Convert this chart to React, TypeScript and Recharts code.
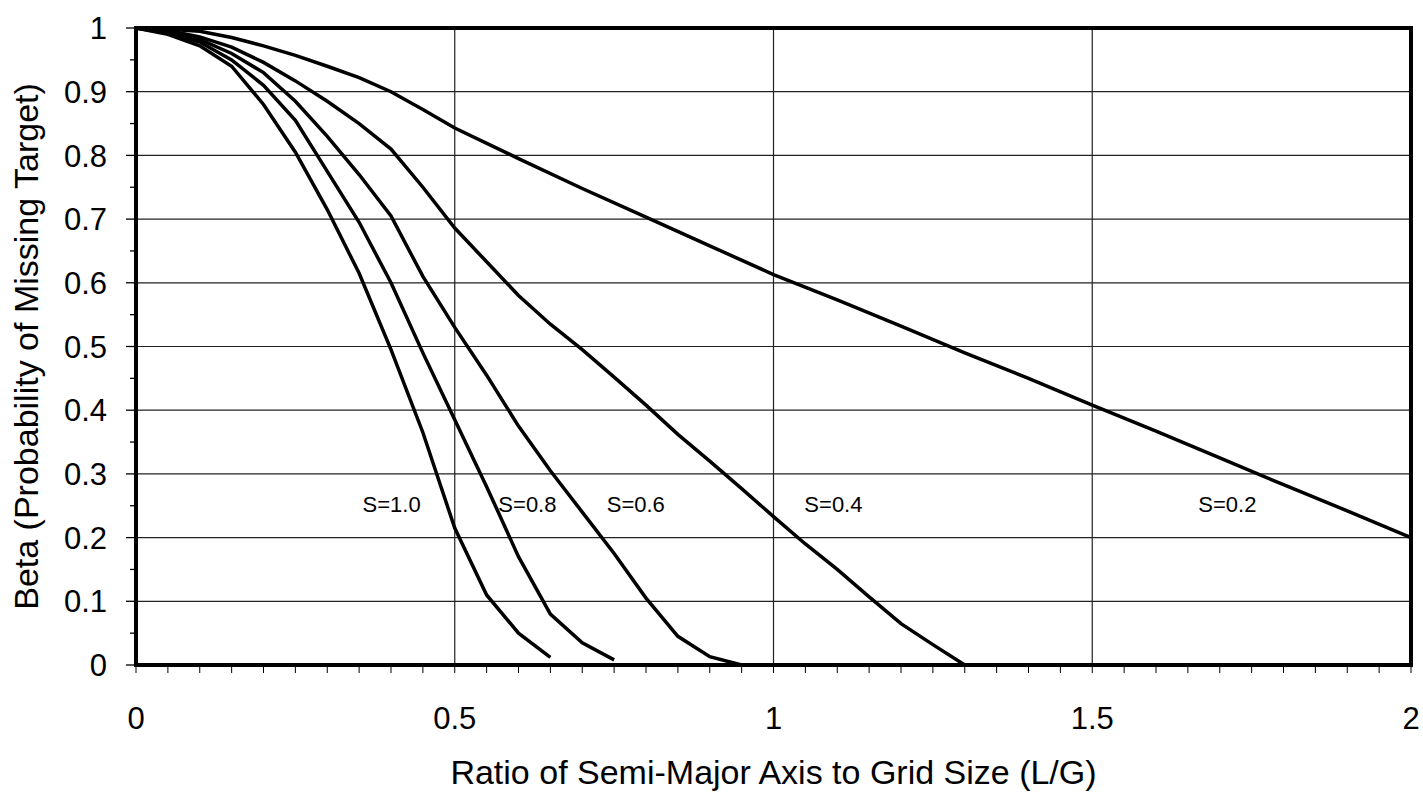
import { LineChart, Line, XAxis, YAxis, CartesianGrid, ReferenceArea, ReferenceDot } from "recharts";

// L/G ratio steps used by the S=1.0 ... S=0.4 curves
const ratioSteps = [
  0, 0.05, 0.1, 0.15, 0.2, 0.25, 0.3, 0.35, 0.4, 0.45, 0.5, 0.55, 0.6, 0.65, 0.7,
  0.75, 0.8, 0.85, 0.9, 0.95, 1.0, 1.05, 1.1, 1.15, 1.2, 1.25, 1.3,
];
const ratioS02 = [
  0, 0.05, 0.1, 0.15, 0.2, 0.25, 0.3, 0.35, 0.4, 0.45, 0.5, 0.6, 0.7, 0.8, 0.9, 1.0,
  1.1, 1.2, 1.3, 1.4, 1.5, 1.6, 1.7, 1.8, 1.9, 2.0,
];

const betaS10 = [1, 0.99, 0.972, 0.94, 0.88, 0.805, 0.715, 0.615, 0.495, 0.365, 0.215, 0.11, 0.05, 0.012];
const betaS08 = [1, 0.992, 0.978, 0.95, 0.91, 0.855, 0.775, 0.695, 0.6, 0.49, 0.385, 0.28, 0.17, 0.08, 0.035, 0.008];
const betaS06 = [
  1, 0.994, 0.982, 0.96, 0.93, 0.885, 0.83, 0.77, 0.705, 0.61, 0.53, 0.455, 0.375, 0.305, 0.24,
  0.175, 0.105, 0.045, 0.013, 0,
];
const betaS04 = [
  1, 0.996, 0.986, 0.97, 0.946, 0.917, 0.885, 0.85, 0.81, 0.75, 0.686, 0.633, 0.58, 0.535, 0.495,
  0.452, 0.408, 0.362, 0.32, 0.277, 0.233, 0.19, 0.15, 0.107, 0.065, 0.032, 0,
];
const betaS02 = [
  1, 0.998, 0.995, 0.985, 0.972, 0.957, 0.94, 0.922, 0.9, 0.872, 0.843, 0.795, 0.748, 0.703,
  0.658, 0.613, 0.573, 0.532, 0.49, 0.45, 0.408, 0.367, 0.325, 0.283, 0.242, 0.2,
];

const curveNames = ["S=1.0", "S=0.8", "S=0.6", "S=0.4", "S=0.2"];
const labelRatio = [0.401, 0.614, 0.784, 1.094, 1.712];
const labelBeta = [0.253, 0.253, 0.253, 0.253, 0.253];

const xTicks = Array.from({ length: 41 }, (_, i) => i / 20);
const yTicks = Array.from({ length: 21 }, (_, i) => i / 20);
const xGrid = [0.5, 1, 1.5];
const yGrid = [0.1, 0.2, 0.3, 0.4, 0.5, 0.6, 0.7, 0.8, 0.9];

const font = "'Liberation Sans', Arial, sans-serif";

const toPoints = (xs: number[], ys: number[]) => ys.map((b, i) => ({ ratio: xs[i], beta: b }));

const curves = [
  toPoints(ratioSteps, betaS10),
  toPoints(ratioSteps, betaS08),
  toPoints(ratioSteps, betaS06),
  toPoints(ratioSteps, betaS04),
  toPoints(ratioS02, betaS02),
];

const fmtX = (v: number) => {
  const k = Math.round(v * 20);
  return k % 10 === 0 ? String(k / 20) : "";
};
const fmtY = (v: number) => {
  const k = Math.round(v * 20);
  if (k % 2 !== 0) return "";
  if (k === 0) return "0";
  if (k === 20) return "1";
  return (k / 20).toFixed(1);
};

// y ticks: longer mark at each 0.1, short mark at the 0.05s
function YTick(props: any) {
  const { x, y, payload } = props;
  const label = fmtY(payload.value);
  const axisX = x + 29;
  const len = label ? 10 : 6;
  return (
    <g>
      <line x1={axisX - len} y1={y} x2={axisX} y2={y} stroke="#000" strokeWidth={1.3} />
      {label && (
        <text x={x} y={y} dy="0.36em" textAnchor="end" fill="#000" fontSize={31} fontFamily={font}>
          {label}
        </text>
      )}
    </g>
  );
}

export default function App() {
  return (
    <div style={{ position: "absolute", left: 0, top: 0, width: 1423, height: 792, background: "#fff" }}>
      <LineChart width={1423} height={792} margin={{ top: 28, right: 12, bottom: 0, left: 0 }} style={{ fontFamily: font }}>
        <CartesianGrid horizontalValues={yGrid} verticalValues={xGrid} stroke="#222" strokeWidth={1.2} />
        <XAxis
          type="number"
          dataKey="ratio"
          domain={[0, 2]}
          ticks={xTicks}
          interval={0}
          tickFormatter={fmtX}
          tickSize={8}
          tickMargin={34}
          height={127}
          stroke="#000"
          tick={{ fill: "#000", fontSize: 31, fontFamily: font }}
          label={{
            value: "Ratio of Semi-Major Axis to Grid Size (L/G)",
            position: "insideBottom",
            offset: 8,
            fill: "#000",
            fontSize: 34,
            fontFamily: font,
          }}
        />
        <YAxis
          type="number"
          domain={[0, 1]}
          ticks={yTicks}
          interval={0}
          tickLine={false}
          tickSize={8}
          tickMargin={21}
          width={136}
          stroke="#000"
          tick={<YTick />}
          label={{
            value: "Beta (Probability of Missing Target)",
            angle: -90,
            position: "insideLeft",
            offset: 26,
            fill: "#000",
            fontSize: 34,
            fontFamily: font,
            style: { textAnchor: "middle" },
          }}
        />
        {curves.map((pts, i) => (
          <Line
            key={curveNames[i]}
            data={pts}
            dataKey="beta"
            type="linear"
            stroke="#000"
            strokeWidth={3.5}
            dot={false}
            isAnimationActive={false}
          />
        ))}
        <ReferenceArea x1={0} x2={2} y1={0} y2={1} fill="none" stroke="#000" strokeWidth={4} ifOverflow="visible" />
        {curveNames.map((name, i) => (
          <ReferenceDot
            key={"lbl" + name}
            x={labelRatio[i]}
            y={labelBeta[i]}
            r={0}
            stroke="none"
            fill="none"
            label={{ value: name, position: "center", fill: "#000", fontSize: 22, fontFamily: font }}
          />
        ))}
      </LineChart>
    </div>
  );
}
